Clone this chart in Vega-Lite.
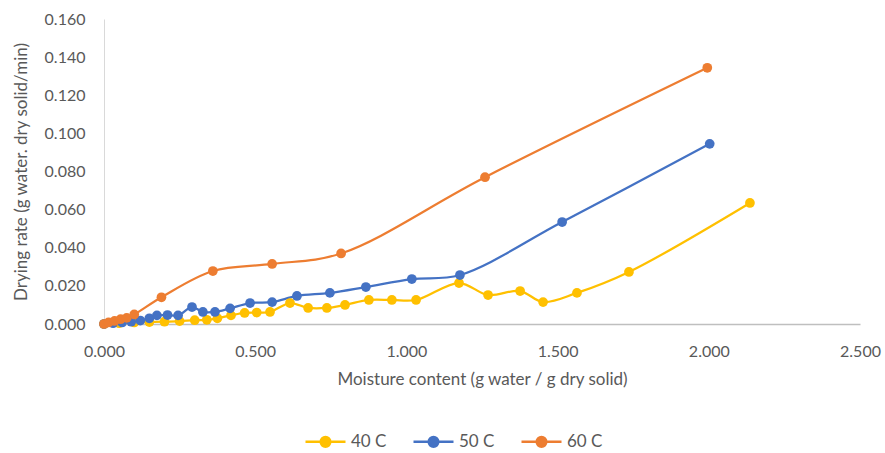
{
  "$schema": "https://vega.github.io/schema/vega-lite/v6.json",
  "width": 756,
  "height": 305,
  "autosize": "none",
  "padding": {"left": 104, "top": 19, "right": 25, "bottom": 129},
  "background": "white",
  "config": {
    "view": {"stroke": null},
    "font": "Lato",
    "axis": {
      "labelFont": "Lato",
      "titleFont": "Lato",
      "labelColor": "#595959",
      "titleColor": "#595959",
      "labelFontSize": 16,
      "titleFontSize": 17,
      "titleFontWeight": "normal",
      "grid": false,
      "ticks": false,
      "tickSize": 0,
      "labelFlush": false
    },
    "legend": {"labelFont": "Lato", "labelFontSize": 17, "labelColor": "#595959"}
  },
  "data": {
    "values": [
      {"series": "40 C", "moisture": 0.000, "rate": 0.0000},
      {"series": "40 C", "moisture": 0.050, "rate": 0.0004},
      {"series": "40 C", "moisture": 0.100, "rate": 0.0008},
      {"series": "40 C", "moisture": 0.150, "rate": 0.0010},
      {"series": "40 C", "moisture": 0.200, "rate": 0.0012},
      {"series": "40 C", "moisture": 0.250, "rate": 0.0015},
      {"series": "40 C", "moisture": 0.300, "rate": 0.0020},
      {"series": "40 C", "moisture": 0.340, "rate": 0.0022},
      {"series": "40 C", "moisture": 0.375, "rate": 0.0030},
      {"series": "40 C", "moisture": 0.420, "rate": 0.0045},
      {"series": "40 C", "moisture": 0.465, "rate": 0.0058},
      {"series": "40 C", "moisture": 0.505, "rate": 0.0060},
      {"series": "40 C", "moisture": 0.549, "rate": 0.0063},
      {"series": "40 C", "moisture": 0.615, "rate": 0.0110},
      {"series": "40 C", "moisture": 0.675, "rate": 0.0084},
      {"series": "40 C", "moisture": 0.737, "rate": 0.0084},
      {"series": "40 C", "moisture": 0.797, "rate": 0.0100},
      {"series": "40 C", "moisture": 0.876, "rate": 0.0126},
      {"series": "40 C", "moisture": 0.952, "rate": 0.0126},
      {"series": "40 C", "moisture": 1.032, "rate": 0.0126},
      {"series": "40 C", "moisture": 1.174, "rate": 0.0215},
      {"series": "40 C", "moisture": 1.270, "rate": 0.0152},
      {"series": "40 C", "moisture": 1.376, "rate": 0.0173},
      {"series": "40 C", "moisture": 1.452, "rate": 0.0115},
      {"series": "40 C", "moisture": 1.564, "rate": 0.0163},
      {"series": "40 C", "moisture": 1.736, "rate": 0.0273},
      {"series": "40 C", "moisture": 2.136, "rate": 0.0635},

      {"series": "50 C", "moisture": 0.000, "rate": 0.0000},
      {"series": "50 C", "moisture": 0.030, "rate": 0.0004},
      {"series": "50 C", "moisture": 0.060, "rate": 0.0008},
      {"series": "50 C", "moisture": 0.090, "rate": 0.0012},
      {"series": "50 C", "moisture": 0.120, "rate": 0.0018},
      {"series": "50 C", "moisture": 0.150, "rate": 0.0030},
      {"series": "50 C", "moisture": 0.175, "rate": 0.0045},
      {"series": "50 C", "moisture": 0.210, "rate": 0.0047},
      {"series": "50 C", "moisture": 0.245, "rate": 0.0045},
      {"series": "50 C", "moisture": 0.291, "rate": 0.0089},
      {"series": "50 C", "moisture": 0.327, "rate": 0.0063},
      {"series": "50 C", "moisture": 0.367, "rate": 0.0063},
      {"series": "50 C", "moisture": 0.417, "rate": 0.0082},
      {"series": "50 C", "moisture": 0.483, "rate": 0.0110},
      {"series": "50 C", "moisture": 0.556, "rate": 0.0115},
      {"series": "50 C", "moisture": 0.638, "rate": 0.0147},
      {"series": "50 C", "moisture": 0.747, "rate": 0.0163},
      {"series": "50 C", "moisture": 0.866, "rate": 0.0194},
      {"series": "50 C", "moisture": 1.018, "rate": 0.0236},
      {"series": "50 C", "moisture": 1.177, "rate": 0.0257},
      {"series": "50 C", "moisture": 1.515, "rate": 0.0535},
      {"series": "50 C", "moisture": 2.003, "rate": 0.0945},

      {"series": "60 C", "moisture": 0.000, "rate": 0.0000},
      {"series": "60 C", "moisture": 0.015, "rate": 0.0008},
      {"series": "60 C", "moisture": 0.035, "rate": 0.0016},
      {"series": "60 C", "moisture": 0.055, "rate": 0.0025},
      {"series": "60 C", "moisture": 0.075, "rate": 0.0032},
      {"series": "60 C", "moisture": 0.100, "rate": 0.0050},
      {"series": "60 C", "moisture": 0.190, "rate": 0.0140},
      {"series": "60 C", "moisture": 0.360, "rate": 0.0278},
      {"series": "60 C", "moisture": 0.556, "rate": 0.0315},
      {"series": "60 C", "moisture": 0.784, "rate": 0.0370},
      {"series": "60 C", "moisture": 1.260, "rate": 0.0770},
      {"series": "60 C", "moisture": 1.995, "rate": 0.1344}
    ]
  },
  "encoding": {
    "x": {
      "field": "moisture",
      "type": "quantitative",
      "title": "Moisture content (g water / g dry solid)",
      "scale": {"domain": [0, 2.5], "nice": false, "zero": true, "padding": 0},
      "axis": {
        "values": [0, 0.5, 1, 1.5, 2, 2.5],
        "format": ".3f",
        "labelPadding": 19,
        "titlePadding": 12,
        "domainColor": "#bfbfbf",
        "domainWidth": 1.3
      }
    },
    "y": {
      "field": "rate",
      "type": "quantitative",
      "title": "Drying rate (g water. dry solid/min)",
      "scale": {"domain": [0, 0.16], "nice": false, "padding": 0},
      "axis": {
        "values": [0, 0.02, 0.04, 0.06, 0.08, 0.1, 0.12, 0.14, 0.16],
        "format": ".3f",
        "labelPadding": 19,
        "titlePadding": 14,
        "domainColor": "#d9d9d9",
        "domainWidth": 1
      }
    },
    "color": {
      "field": "series",
      "type": "nominal",
      "scale": {"domain": ["40 C", "50 C", "60 C"], "range": ["#FFC000", "#4472C4", "#ED7D31"]},
      "legend": {
        "title": null,
        "orient": "none",
        "direction": "horizontal",
        "legendX": 200,
        "legendY": 401,
        "symbolType": "M-1,0L1,0M-0.24,0A0.24,0.24,0,1,0,0.24,0A0.24,0.24,0,1,0,-0.24,0",
        "symbolSize": 1600,
        "symbolStrokeWidth": 2.5,
        "labelOffset": 4,
        "columnPadding": 21,
        "encode": {
          "symbols": {
            "update": {
              "fill": {"scale": "color", "field": "value"},
              "stroke": {"scale": "color", "field": "value"},
              "opacity": {"value": 1}
            }
          }
        }
      }
    }
  },
  "layer": [
    {
      "mark": {"type": "line", "interpolate": "catmull-rom", "strokeWidth": 2.25},
      "encoding": {"order": {"field": "moisture", "type": "quantitative"}}
    },
    {
      "mark": {"type": "point", "filled": true, "shape": "circle", "size": 95, "opacity": 1}
    }
  ]
}
